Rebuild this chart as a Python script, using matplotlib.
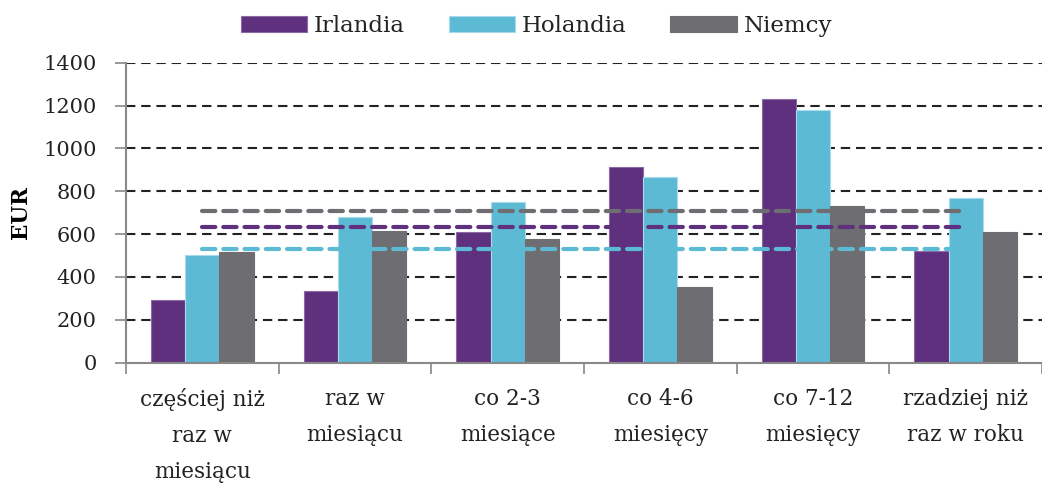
import numpy as np
import matplotlib.pyplot as plt

# dane
categories = ["częściej niż\nraz w\nmiesiącu", "raz w\nmiesiącu", "co 2-3\nmiesiące",
              "co 4-6\nmiesięcy", "co 7-12\nmiesięcy", "rzadziej niż\nraz w roku"]
irlandia = [293, 335, 612, 915, 1232, 520]
holandia = [501, 678, 752, 868, 1180, 770]
niemcy = [518, 613, 575, 355, 730, 610]

# średnie
avg_irlandia = 633
avg_holandia = 530
avg_niemcy = 708

series = [
    ("Irlandia", irlandia, avg_irlandia, "#5f307e", "#8a6aa3"),
    ("Holandia", holandia, avg_holandia, "#5dbad4", "#a9dcea"),
    ("Niemcy", niemcy, avg_niemcy, "#6e6d72", "#6e6d72"),
]

plt.rcParams["font.family"] = ["DejaVu Serif"]
plt.rcParams["text.color"] = "#222222"

fig = plt.figure(figsize=(10.42, 4.84), dpi=100)
ax = fig.add_axes([0.1209, 0.2506, 0.8791, 0.6199])

x = np.arange(len(categories))
w = 0.224

for i, (name, vals, avg, col, ec) in enumerate(series):
    ax.bar(x + (i - 1) * w, vals, width=w, color=col, edgecolor=ec,
           linewidth=0.8, label=name, zorder=2)

for i, (name, vals, avg, col, ec) in enumerate(series):
    ax.plot([x[0], x[-1]], [avg, avg], color=col, linewidth=3,
            dashes=(3.2, 1.9), dash_capstyle="round", zorder=3)

ax.set_ylim(0, 1400)
ax.set_xlim(-0.5, 5.448)
ax.set_yticks(np.arange(0, 1401, 200))
ax.set_xticks(x)
ax.set_xticklabels(categories, fontsize=15.5, linespacing=1.84, color="#222222")
ax.set_xticks(np.arange(-0.5, 6, 1), minor=True)
ax.tick_params(axis="x", which="major", length=0, pad=18)
ax.tick_params(axis="x", which="minor", length=8, width=1.2, color="#888888")
ax.tick_params(axis="y", length=8, width=1.2, color="#888888", labelsize=15,
               labelcolor="#222222", pad=13)

for yv in range(200, 1401, 200):
    ax.axhline(yv, color="#222222", linewidth=1.5, dashes=(4.5, 2.8), zorder=1)

for s in ["top", "right"]:
    ax.spines[s].set_visible(False)
for s in ["left", "bottom"]:
    ax.spines[s].set_color("#888888")
    ax.spines[s].set_linewidth(1.5)

ax.set_ylabel("EUR", fontsize=15.5, fontweight="bold", labelpad=8)

fig.legend(loc="center", bbox_to_anchor=(0.515, 0.946), ncol=3, frameon=False,
           fontsize=16.5, handlelength=2.9, handleheight=0.72,
           handletextpad=0.3, columnspacing=1.9)

fig.savefig("out.png", dpi=100)
